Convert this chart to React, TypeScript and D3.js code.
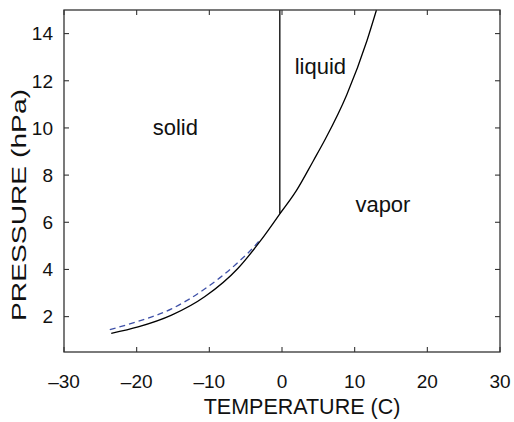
import React from "react";
import * as d3 from "d3";

const xTicks = [-30, -20, -10, 0, 10, 20, 30];
const yTicks = [2, 4, 6, 8, 10, 12, 14];

// over ice (solid)
const iceT = [-23.5, -19.8, -15.2, -10.6, -6.05, -3.0, -0.3];
const iceP = [1.29, 1.56, 2.06, 2.85, 4.05, 5.2, 6.36];
// over supercooled water (dashed)
const superT = [-23.7, -19.8, -15.2, -10.6, -6.05, -3.5, -2.9];
const superP = [1.45, 1.8, 2.33, 3.18, 4.3, 5.08, 5.3];
// over liquid water
const liqT = [-0.3, 2, 4.3, 6, 8.9, 11.7, 13.0];
const liqP = [6.36, 7.35, 8.6, 9.55, 11.4, 13.71, 15.0];
// melting line
const meltT = [-0.3, -0.3];
const meltP = [6.36, 15.0];

const labels = ["solid", "liquid", "vapor"];
const labelT = [-17.8, 1.75, 10.1];
const labelP = [9.72, 12.3, 6.42];

const W = 514, H = 422;
const L = 64, R = 500, T = 10, B = 352;
const FONT = "'Liberation Sans', Arial, Helvetica, sans-serif";

export default function App() {
  const x = d3.scaleLinear().domain([-30, 30]).range([L, R]);
  const y = d3.scaleLinear().domain([0.5, 15]).range([B, T]);
  const line = d3
    .line<[number, number]>()
    .x((d) => x(d[0]))
    .y((d) => y(d[1]))
    .curve(d3.curveMonotoneX);
  const pts = (a: number[], b: number[]) => a.map((v, i) => [v, b[i]] as [number, number]);
  const tl = 5;
  const axisColor = "#333";
  return (
    <svg
      width={W}
      height={H}
      style={{ position: "absolute", left: 0, top: 0, background: "#fff" }}
      fontFamily={FONT}
    >
      <rect x={0} y={0} width={W} height={H} fill="#fff" />
      <path d={line(pts(superT, superP)) || ""} fill="none" stroke="#3f51a8" strokeWidth={1.3} strokeDasharray="6,4" />
      <path d={line(pts(iceT, iceP)) || ""} fill="none" stroke="#000" strokeWidth={1.3} />
      <path d={line(pts(liqT, liqP)) || ""} fill="none" stroke="#000" strokeWidth={1.3} />
      <path d={d3.line()([[x(meltT[0]), y(meltP[0])], [x(meltT[1]), y(meltP[1])]]) || ""} fill="none" stroke="#000" strokeWidth={1.3} />
      {labels.map((t, i) => (
        <text key={t} x={x(labelT[i])} y={y(labelP[i])} fontSize={22} fill="#111">
          {t}
        </text>
      ))}
      <rect x={L} y={T} width={R - L} height={B - T} fill="none" stroke={axisColor} strokeWidth={1.3} />
      {xTicks.map((v) => (
        <g key={"x" + v}>
          <line x1={x(v)} x2={x(v)} y1={B} y2={B - tl} stroke={axisColor} strokeWidth={1.1} />
          <line x1={x(v)} x2={x(v)} y1={T} y2={T + tl} stroke={axisColor} strokeWidth={1.1} />
          <text x={x(v)} y={388} textAnchor="middle" fontSize={19} fill="#111">
            {v < 0 ? "\u2013" + Math.abs(v) : String(v)}
          </text>
        </g>
      ))}
      {yTicks.map((v) => (
        <g key={"y" + v}>
          <line x1={L} x2={L + tl} y1={y(v)} y2={y(v)} stroke={axisColor} strokeWidth={1.1} />
          <line x1={R} x2={R - tl} y1={y(v)} y2={y(v)} stroke={axisColor} strokeWidth={1.1} />
          <text x={53} y={y(v)} dy="0.36em" textAnchor="end" fontSize={19} fill="#111">
            {v}
          </text>
        </g>
      ))}
      <text x={302} y={414} textAnchor="middle" fontSize={21.5} fill="#111">
        TEMPERATURE (C)
      </text>
      <text
        transform={`translate(26,${205}) rotate(-90)`}
        textAnchor="middle"
        fontSize={21}
        textLength={232}
        lengthAdjust="spacingAndGlyphs"
        fill="#111"
      >
        PRESSURE (hPa)
      </text>
    </svg>
  );
}
